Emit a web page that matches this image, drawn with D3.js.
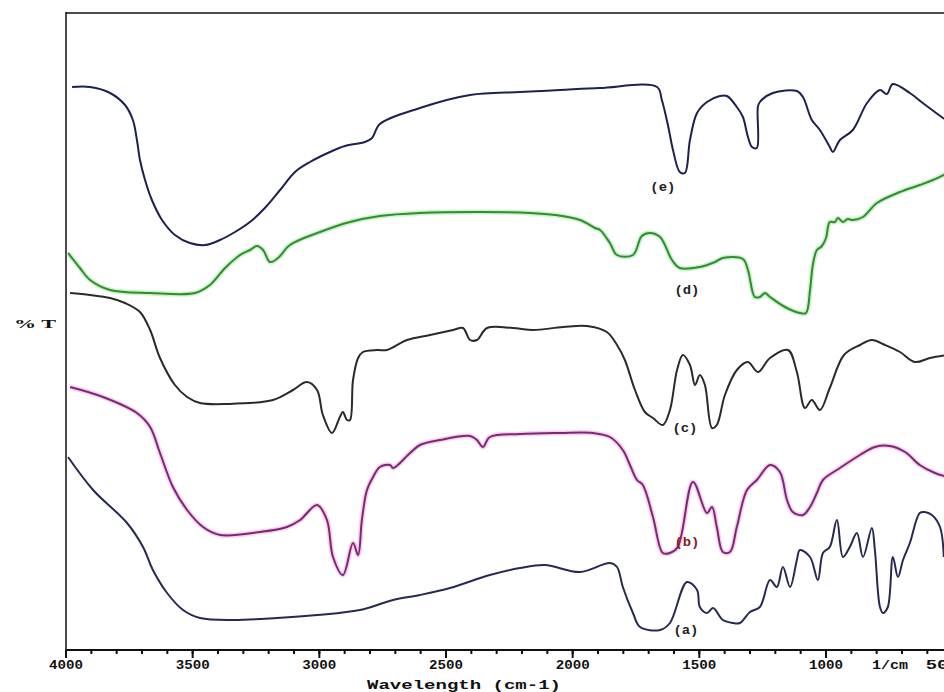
<!DOCTYPE html>
<html><head><meta charset="utf-8">
<script src="https://cdn.jsdelivr.net/npm/d3@7"></script>
<style>
html,body{margin:0;padding:0;background:#fff;}
svg{display:block;}
</style></head>
<body>
<svg id="chart" width="944" height="692"></svg>
<script>
// Wavenumber ticks (cm-1)
const majorTicks = [4000, 3500, 3000, 2500, 2000, 1500, 1000, 500];
const minorTicks = d3.range(4000, 399, -100);
const xTitle = "Wavelength  (cm-1)";
const yTitle = "% T";
const unitLabel = "1/cm";

// spectra: [wavenumber, %T (offset units)]
const seriesE = [[3976,56.3],[3905,56.3],[3826,55.7],[3767,54.5],[3736,53.0],[3720,51.0],[3708,49.0],[3688,47.0],[3661,45.0],[3621,43.0],[3570,41.5],[3511,40.7],[3451,40.5],[3392,41.0],[3333,41.8],[3274,42.8],[3215,44.2],[3155,46.0],[3096,47.8],[3037,48.8],[2958,49.8],[2899,50.4],[2820,50.8],[2792,51.2],[2761,52.6],[2603,54.2],[2405,55.5],[2208,55.8],[2050,56.0],[1892,56.2],[1667,56.3],[1648,55.0],[1624,52.5],[1604,50.0],[1577,47.8],[1557,47.7],[1537,51.0],[1509,53.7],[1470,54.8],[1419,55.4],[1391,55.4],[1352,54.3],[1328,53.3],[1308,51.3],[1292,50.3],[1273,50.2],[1269,54.3],[1261,54.8],[1210,55.7],[1115,55.9],[1091,55.3],[1056,53.0],[1024,52.0],[985,50.3],[973,49.8],[945,51.0],[894,52.0],[838,54.7],[787,56.0],[760,55.6],[736,56.6],[669,55.7],[618,54.7],[538,53.2],[520,52.9]];

const seriesD = [[3992,39.7],[3945,38.2],[3905,37.0],[3826,36.0],[3668,35.7],[3491,35.7],[3432,36.5],[3372,38.2],[3313,39.5],[3274,40.0],[3246,40.4],[3222,40.0],[3195,38.8],[3163,39.2],[3116,40.5],[2997,41.8],[2879,42.8],[2761,43.4],[2603,43.7],[2366,43.8],[2169,43.7],[2070,43.5],[1971,43.0],[1912,42.2],[1892,42.0],[1853,40.7],[1825,39.5],[1762,39.5],[1727,41.4],[1695,41.7],[1655,41.3],[1608,39.0],[1577,38.2],[1498,38.3],[1438,38.8],[1407,39.2],[1328,39.1],[1308,38.0],[1281,35.3],[1261,35.3],[1241,35.7],[1221,35.3],[1162,34.3],[1103,33.7],[1079,33.7],[1063,36.0],[1052,38.5],[1036,40.0],[1016,40.4],[1000,41.2],[985,42.8],[965,42.8],[953,43.2],[933,42.8],[914,43.1],[894,43.0],[854,43.3],[799,44.7],[708,45.8],[630,46.5],[578,47.0],[520,47.7]];

const seriesC = [[3984,35.7],[3905,35.5],[3826,35.2],[3767,34.7],[3708,33.8],[3668,32.0],[3629,29.2],[3570,26.5],[3522,25.3],[3471,24.7],[3365,24.6],[3183,25.0],[3104,26.0],[3049,26.8],[3009,26.0],[2986,23.5],[2950,21.7],[2919,23.3],[2907,23.8],[2891,23.0],[2879,23.0],[2867,27.0],[2847,29.2],[2828,29.8],[2772,30.0],[2733,30.0],[2654,31.0],[2563,31.5],[2472,32.0],[2433,32.2],[2405,31.0],[2378,31.0],[2338,32.2],[2236,32.2],[2157,32.0],[2038,32.3],[1944,32.4],[1865,31.8],[1825,30.5],[1794,29.0],[1754,26.0],[1715,23.8],[1683,23.2],[1644,22.5],[1616,24.0],[1588,28.0],[1565,29.5],[1537,28.5],[1517,26.5],[1498,27.5],[1478,26.5],[1450,22.2],[1431,22.5],[1399,25.5],[1352,28.0],[1308,28.8],[1269,27.8],[1221,29.2],[1150,30.0],[1115,27.8],[1083,24.2],[1056,25.0],[1024,24.0],[985,26.2],[929,29.5],[866,30.5],[819,31.0],[767,30.5],[708,29.8],[649,28.8],[590,29.2],[520,29.5]];

const seriesB = [[3984,26.3],[3854,25.3],[3720,23.7],[3668,22.3],[3629,19.7],[3578,16.3],[3522,14.0],[3459,12.3],[3392,11.5],[3234,11.8],[3128,12.3],[3076,13.0],[3009,14.5],[2970,13.0],[2946,9.3],[2907,7.5],[2867,10.7],[2847,9.5],[2832,13.0],[2812,16.0],[2788,17.3],[2761,18.3],[2721,18.5],[2709,18.2],[2642,19.7],[2603,20.5],[2524,21.0],[2405,21.4],[2378,21.0],[2354,20.3],[2327,21.3],[2208,21.6],[2050,21.7],[1920,21.7],[1853,21.3],[1802,20.0],[1774,18.5],[1746,17.0],[1723,16.5],[1683,13.3],[1644,9.7],[1616,9.7],[1585,10.3],[1525,16.8],[1470,13.7],[1450,14.3],[1431,12.3],[1407,9.8],[1379,9.8],[1352,12.3],[1312,16.0],[1273,17.0],[1221,18.5],[1182,17.8],[1154,15.0],[1131,13.8],[1091,13.5],[1063,14.3],[1036,15.7],[1012,17.0],[945,18.2],[866,19.5],[807,20.3],[748,20.4],[688,19.8],[630,18.5],[570,17.7],[520,17.3]];

const seriesA = [[3992,19.3],[3893,16.0],[3759,12.7],[3696,10.3],[3657,8.0],[3601,5.7],[3538,4.0],[3471,3.2],[3341,3.0],[3167,3.2],[3009,3.5],[2840,4.0],[2709,5.0],[2603,5.5],[2484,6.2],[2327,7.5],[2208,8.2],[2109,8.5],[1971,7.8],[1853,8.7],[1825,8.3],[1802,6.3],[1762,3.7],[1734,2.3],[1655,2.0],[1616,2.7],[1549,6.8],[1509,6.0],[1498,4.3],[1470,3.7],[1446,4.2],[1407,3.0],[1367,2.7],[1340,2.7],[1300,3.8],[1261,4.3],[1221,7.0],[1194,6.3],[1170,8.3],[1142,6.3],[1115,9.0],[1103,10.0],[1063,9.3],[1032,7.0],[1012,9.7],[985,10.3],[957,13.0],[933,9.3],[906,10.3],[878,11.7],[854,9.3],[819,12.2],[807,10.0],[787,4.3],[775,3.7],[756,4.3],[736,9.3],[716,7.3],[696,9.0],[669,10.7],[630,13.7],[610,13.8],[582,13.5],[550,12.3],[535,9.3]];

const seriesNames = ["(e)", "(d)", "(c)", "(b)", "(a)"];
// label anchor (text baseline): [wavenumber, %T]
const labelPos = [[1644, 45.9], [1549, 35.6], [1557, 21.8], [1549, 10.4], [1553, 1.6]];

const svg = d3.select("#chart");
const x = d3.scaleLinear().domain([4000, 1000]).range([66, 826]);
const y = d3.scaleLinear().domain([0, 64]).range([650, 10]);

const styles = [
  {data: seriesE, color: "#1d2150", glow: null},
  {data: seriesD, color: "#2f8f2f", glow: "#8fe08f"},
  {data: seriesC, color: "#2a2a2a", glow: null},
  {data: seriesB, color: "#7b2a6e", glow: "#ef95e4"},
  {data: seriesA, color: "#262a52", glow: null}
];
const labelColors = ["#222", "#222", "#222", "#8a1a1a", "#222"];

const line = d3.line().x(d => x(d[0])).y(d => y(d[1])).curve(d3.curveCatmullRom.alpha(0.5));

// frame
svg.append("line").attr("x1", 66).attr("x2", 944).attr("y1", y(63.7)).attr("y2", y(63.7))
  .attr("stroke", "#111").attr("stroke-width", 1.5);
svg.append("line").attr("x1", 66).attr("x2", 66).attr("y1", y(63.8)).attr("y2", y(0))
  .attr("stroke", "#111").attr("stroke-width", 1.5);

// curves
styles.forEach(s => {
  if (s.glow) {
    svg.append("path").datum(s.data).attr("d", line).attr("fill", "none")
      .attr("stroke", s.glow).attr("stroke-width", 5).attr("stroke-opacity", 0.45)
      .attr("stroke-linejoin", "round");
  }
  svg.append("path").datum(s.data).attr("d", line).attr("fill", "none")
    .attr("stroke", s.color).attr("stroke-width", 2).attr("stroke-linejoin", "round");
});

// x axis
const gx = svg.append("g").attr("transform", `translate(0,${y(0)})`);
gx.append("line").attr("x1", 66).attr("x2", 944).attr("y1", 0).attr("y2", 0)
  .attr("stroke", "#111").attr("stroke-width", 2);
gx.selectAll(".minor").data(minorTicks).join("line")
  .attr("x1", d => x(d)).attr("x2", d => x(d)).attr("y1", 0).attr("y2", 4)
  .attr("stroke", "#111").attr("stroke-width", 2);
gx.selectAll(".major").data(majorTicks).join("line")
  .attr("x1", d => x(d)).attr("x2", d => x(d)).attr("y1", 0).attr("y2", 8)
  .attr("stroke", "#111").attr("stroke-width", 2);
gx.selectAll(".tl").data(majorTicks).join("text")
  .attr("x", d => d === 500 ? x(d) - 10 : x(d)).attr("y", 19)
  .attr("text-anchor", "middle")
  .attr("font-family", "Liberation Mono, monospace").attr("font-weight", "bold")
  .attr("font-size", 12).attr("fill", "#111")
  .attr("textLength", 34).attr("lengthAdjust", "spacingAndGlyphs")
  .text(d => d);
gx.append("text").attr("x", 890).attr("y", 19).attr("text-anchor", "middle")
  .attr("font-family", "Liberation Mono, monospace").attr("font-weight", "bold")
  .attr("font-size", 12).attr("fill", "#111")
  .attr("textLength", 36).attr("lengthAdjust", "spacingAndGlyphs")
  .text(unitLabel);

svg.append("text").attr("x", 464).attr("y", 689).attr("text-anchor", "middle")
  .attr("font-family", "Liberation Mono, monospace").attr("font-weight", "bold")
  .attr("font-size", 12).attr("fill", "#111")
  .attr("textLength", 194).attr("lengthAdjust", "spacingAndGlyphs")
  .text(xTitle);

svg.append("text").attr("x", 35).attr("y", 328).attr("text-anchor", "middle")
  .attr("font-family", "Liberation Serif, serif").attr("font-weight", "bold")
  .attr("font-size", 13).attr("fill", "#111")
  .attr("textLength", 42).attr("lengthAdjust", "spacingAndGlyphs")
  .text(yTitle);

// series labels
svg.selectAll(".lab").data(seriesNames).join("text")
  .attr("x", (d, i) => x(labelPos[i][0])).attr("y", (d, i) => y(labelPos[i][1]))
  .attr("text-anchor", "middle")
  .attr("font-family", "Liberation Mono, monospace").attr("font-weight", "bold")
  .attr("font-size", 12).attr("fill", (d, i) => labelColors[i])
  .attr("textLength", 25).attr("lengthAdjust", "spacingAndGlyphs")
  .text(d => d);
</script>
</body></html>
